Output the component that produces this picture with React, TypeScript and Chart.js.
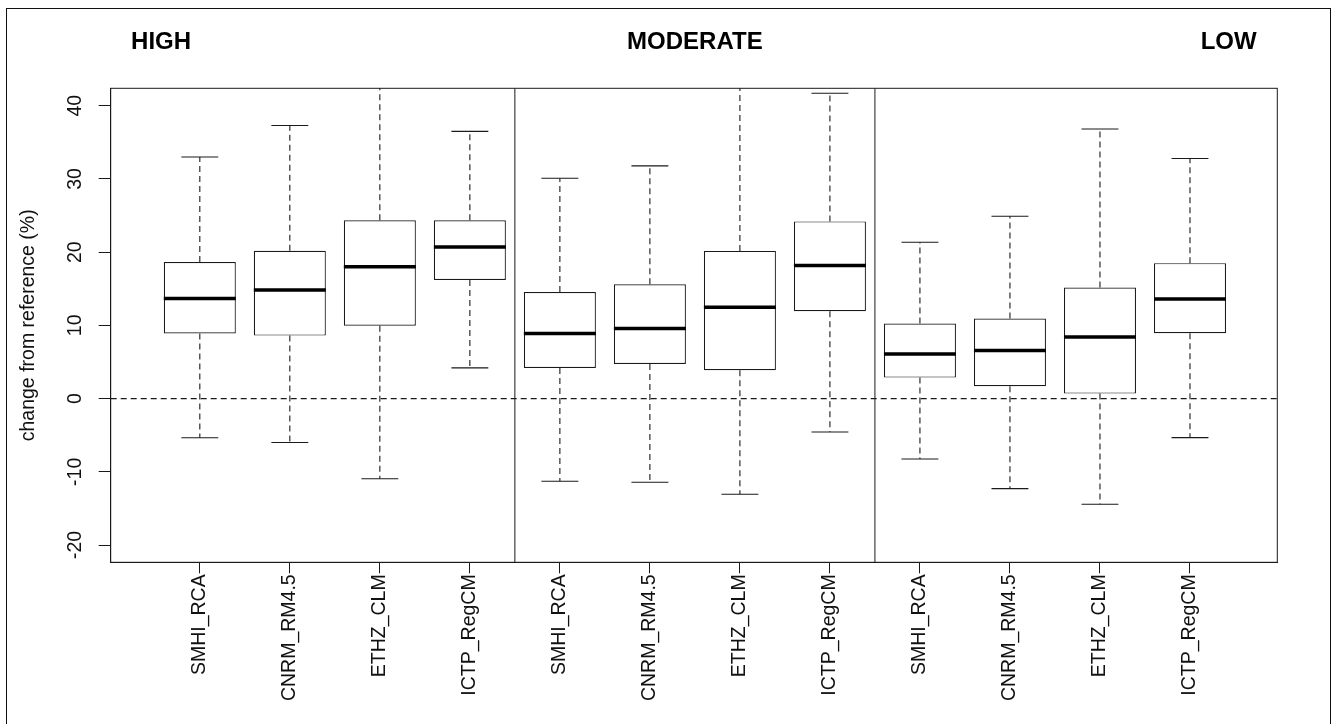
import React, { useEffect, useRef } from 'react';
import { Chart, registerables } from 'chart.js';

Chart.register(...registerables);

// ---------- data ----------
const MODELS = ['SMHI_RCA', 'CNRM_RM4.5', 'ETHZ_CLM', 'ICTP_RegCM'];
const GROUPS = ['HIGH', 'MODERATE', 'LOW'];
const CATEGORIES = GROUPS.flatMap(() => MODELS);

const WHISKER_LOW = [-5.35, -6.0, -10.95, 4.2, -11.3, -11.43, -13.07, -4.56, -8.25, -12.3, -14.44, -5.33];
const Q1 = [8.9, 8.6, 9.95, 16.2, 4.18, 4.73, 3.87, 11.93, 2.87, 1.68, 0.68, 8.92];
const MEDIAN = [13.66, 14.82, 18.0, 20.7, 8.88, 9.56, 12.47, 18.17, 6.09, 6.56, 8.42, 13.6];
const Q3 = [18.65, 20.2, 24.36, 24.36, 14.56, 15.6, 20.17, 24.2, 10.24, 10.93, 15.16, 18.5];
const WHISKER_HIGH = [33.0, 37.3, 45.0, 36.5, 30.1, 31.78, 45.0, 41.7, 21.35, 24.9, 36.83, 32.79];

const Y_TICKS = [-20, -10, 0, 10, 20, 30, 40];
const REFERENCE_LINE = 0;
const GROUP_DIVIDERS = [4.5, 8.5];
const GROUP_TITLE_AT = [0.57, 6.5, 12.43];
const X_RANGE = [0.01, 12.97];
const Y_RANGE = [-22.36, 42.38];
const Y_LABEL = 'change from reference (%)';

// ---------- style ----------
const FONT = '"Liberation Sans", Arial, Helvetica, sans-serif';
const INK = '#1a1a1a';
const TEXT = '#111111';
const HALF_BOX = 0.4;
const HALF_CAP = 0.205;
const DASH = [6, 4];

const annotate = {
  id: 'annotate',
  afterDraw(chart: any) {
    const { ctx, chartArea: a, scales } = chart;
    const x = scales.x;
    const y = scales.y;
    ctx.save();
    // plot frame
    ctx.strokeStyle = INK;
    ctx.lineWidth = 1;
    ctx.strokeRect(a.left, a.top, a.right - a.left, a.bottom - a.top);

    // y tick labels (rotated, parallel to the axis)
    ctx.fillStyle = TEXT;
    ctx.font = `19.5px ${FONT}`;
    ctx.textAlign = 'center';
    ctx.textBaseline = 'middle';
    y.ticks.forEach((t: any) => {
      const py = y.getPixelForValue(t.value);
      ctx.save();
      ctx.translate(a.left - 35.5, py);
      ctx.rotate(-Math.PI / 2);
      ctx.fillText(String(t.value), 0, 0);
      ctx.restore();
    });

    // y axis title
    ctx.save();
    ctx.translate(a.left - 82.2, (a.top + a.bottom) / 2);
    ctx.rotate(-Math.PI / 2);
    ctx.fillText(Y_LABEL, 0, 0);
    ctx.restore();

    // group titles
    ctx.font = `bold 24px ${FONT}`;
    ctx.textBaseline = 'alphabetic';
    ctx.fillStyle = '#000';
    GROUPS.forEach((g, i) => {
      ctx.fillText(g, x.getPixelForValue(GROUP_TITLE_AT[i]), a.top - 39);
    });
    ctx.restore();
  },
};

export default function App() {
  const canvasRef = useRef<HTMLCanvasElement | null>(null);

  useEffect(() => {
    const canvas = canvasRef.current;
    if (!canvas) return;

    const positions = CATEGORIES.map((_, i) => i + 1);

    const boxData = positions.map((x, i) => ({ x, y: [Q1[i], Q3[i]] }));
    const medianData = positions.flatMap((x, i) => [
      { x: x - HALF_BOX, y: MEDIAN[i] },
      { x: x + HALF_BOX, y: MEDIAN[i] },
      { x: x + HALF_BOX, y: null },
    ]);
    const whiskerData = positions.flatMap((x, i) => [
      { x, y: Q3[i] },
      { x, y: WHISKER_HIGH[i] },
      { x, y: null },
      { x, y: Q1[i] },
      { x, y: WHISKER_LOW[i] },
      { x, y: null },
    ]);
    const capData = positions.flatMap((x, i) => [
      { x: x - HALF_CAP, y: WHISKER_HIGH[i] },
      { x: x + HALF_CAP, y: WHISKER_HIGH[i] },
      { x: x + HALF_CAP, y: null },
      { x: x - HALF_CAP, y: WHISKER_LOW[i] },
      { x: x + HALF_CAP, y: WHISKER_LOW[i] },
      { x: x + HALF_CAP, y: null },
    ]);
    const zeroData = [
      { x: X_RANGE[0], y: REFERENCE_LINE },
      { x: X_RANGE[1], y: REFERENCE_LINE },
    ];
    const dividerData = GROUP_DIVIDERS.flatMap((d) => [
      { x: d, y: Y_RANGE[0] },
      { x: d, y: Y_RANGE[1] },
      { x: d, y: null },
    ]);

    const lineBase = {
      type: 'line' as const,
      pointRadius: 0,
      pointHoverRadius: 0,
      fill: false,
      tension: 0,
      spanGaps: false,
      borderCapStyle: 'butt' as const,
    };

    const chart = new Chart(canvas, {
      type: 'bar',
      data: {
        datasets: [
          { ...lineBase, label: 'median', data: medianData as any, borderColor: '#000', borderWidth: 3.5, order: 0 },
          { ...lineBase, label: 'caps', data: capData as any, borderColor: INK, borderWidth: 1.1, order: 1 },
          { ...lineBase, label: 'whiskers', data: whiskerData as any, borderColor: INK, borderWidth: 1.1, borderDash: DASH, order: 2 },
          { ...lineBase, label: 'zero', data: zeroData as any, borderColor: INK, borderWidth: 1.1, borderDash: DASH, order: 3 },
          { ...lineBase, label: 'dividers', data: dividerData as any, borderColor: INK, borderWidth: 1, order: 4 },
          {
            type: 'bar',
            label: 'boxes',
            data: boxData as any,
            backgroundColor: '#ffffff',
            borderColor: INK,
            borderWidth: 1.2,
            borderSkipped: false,
            barPercentage: 0.8,
            categoryPercentage: 1,
            order: 5,
          } as any,
        ],
      },
      options: {
        animation: false,
        responsive: false,
        events: [],
        layout: { padding: { left: 0, top: 88.3, right: 55.7, bottom: 0 } },
        plugins: {
          legend: { display: false },
          tooltip: { enabled: false },
          title: { display: false },
        },
        scales: {
          x: {
            type: 'linear',
            min: X_RANGE[0],
            max: X_RANGE[1],
            offset: false,
            grid: { display: true, drawOnChartArea: false, drawTicks: true, tickLength: 11, color: INK, offset: false },
            border: { display: true, color: INK, width: 1 },
            afterBuildTicks: (s: any) => {
              s.ticks = CATEGORIES.map((_, i) => ({ value: i + 1 }));
            },
            afterFit: (s: any) => {
              s.height = 161.7;
            },
            ticks: {
              autoSkip: false,
              minRotation: 90,
              maxRotation: 90,
              padding: 1,
              color: TEXT,
              font: { family: FONT, size: 19.5 },
              callback: (v: any) => CATEGORIES[Math.round(Number(v)) - 1] ?? '',
            },
          },
          y: {
            type: 'linear',
            min: Y_RANGE[0],
            max: Y_RANGE[1],
            beginAtZero: false,
            grid: { display: true, drawOnChartArea: false, drawTicks: true, tickLength: 12, color: INK },
            border: { display: true, color: INK, width: 1 },
            afterBuildTicks: (s: any) => {
              s.ticks = Y_TICKS.map((v) => ({ value: v }));
            },
            afterFit: (s: any) => {
              s.width = 110.7;
            },
            ticks: { display: false },
          },
        },
      } as any,
      plugins: [annotate],
    });

    return () => {
      chart.destroy();
    };
  }, []);

  return (
    <div
      style={{
        position: 'fixed',
        left: 0,
        top: 0,
        width: 1333,
        height: 724,
        background: '#ffffff',
        overflow: 'hidden',
      }}
    >
      <canvas ref={canvasRef} width={1333} height={724} style={{ display: 'block', width: 1333, height: 724 }} />
      <div
        style={{
          position: 'absolute',
          left: 6,
          top: 8,
          width: 1323,
          height: 760,
          borderLeft: '1.5px solid #111',
          borderTop: '1.5px solid #111',
          borderRight: '1.5px solid #111',
          pointerEvents: 'none',
        }}
      />
    </div>
  );
}
